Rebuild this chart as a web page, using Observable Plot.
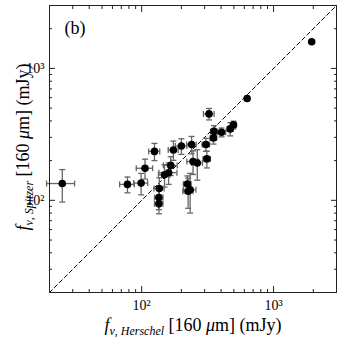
<!DOCTYPE html>
<html>
<head>
<meta charset="utf-8">
<script src="https://cdn.jsdelivr.net/npm/d3@7"></script>
<script src="https://cdn.jsdelivr.net/npm/@observablehq/plot@0.6"></script>
<style>
  html, body { margin: 0; padding: 0; background: #fff; }
  #chart svg { display: block; }
  #chart svg, #chart svg text { font-family: "Liberation Serif", "Times New Roman", Times, serif; }
</style>
</head>
<body>
<div id="chart"></div>
<script>
// Herschel 160um flux (mJy), Spitzer 160um flux (mJy), and errors
const herschel = [1945, 630, 324, 497, 469, 403, 353, 350, 307, 239, 200, 174, 125, 312, 245, 264, 166, 106, 160, 149, 99, 78, 25, 222, 136, 233, 225, 135, 135];
const spitzer  = [1592, 592, 452, 373, 348, 328, 333, 297, 265, 265, 258, 241, 235, 206, 197, 192, 184, 175, 162, 156, 135, 132, 134, 133, 123, 120, 117, 105, 94];
const herschelErr = [0, 20, 30, 20, 25, 30, 20, 20, 20, 20, 20, 15, 12, 20, 25, 25, 20, 15, 25, 15, 12, 10, 6, 15, 12, 25, 20, 10, 10];
const spitzerErr  = [0, 20, 45, 25, 40, 25, 35, 30, 30, 40, 35, 40, 35, 30, 40, 50, 30, 30, 30, 30, 25, 18, 37, 20, 25, 40, 30, 20, 15];

const domain = [20, 3000];
const majorTicks = [100, 1000];
const majorLabels = ["10\u00B2", "10\u00B3"];
const minorTicks = [20, 30, 40, 50, 60, 70, 80, 90, 200, 300, 400, 500, 600, 700, 800, 900, 2000, 3000];
const panelLabel = ["(b)"];

const data = herschel.map((x, i) => ({x, y: spitzer[i], xe: herschelErr[i], ye: spitzerErr[i]}));
const withErr = data.filter(d => d.xe > 0 || d.ye > 0);

const capSymbolH = { draw(ctx, size) { const r = Math.sqrt(size / Math.PI); ctx.moveTo(-r, 0); ctx.lineTo(r, 0); } };
const capSymbolV = { draw(ctx, size) { const r = Math.sqrt(size / Math.PI); ctx.moveTo(0, -r); ctx.lineTo(0, r); } };

const errColor = "#666";
const axisColor = "#222";
const ff = "'Liberation Serif', 'Times New Roman', Times, serif";

const tickMarks = [];
for (const a of ["bottom", "top"]) {
  tickMarks.push(Plot.axisX({anchor: a, ticks: majorTicks, tickSize: -6, tickFormat: () => "", stroke: axisColor}));
  tickMarks.push(Plot.axisX({anchor: a, ticks: minorTicks, tickSize: -3, tickFormat: () => "", stroke: axisColor}));
}
for (const a of ["left", "right"]) {
  tickMarks.push(Plot.axisY({anchor: a, ticks: majorTicks, tickSize: -6, tickFormat: () => "", stroke: axisColor}));
  tickMarks.push(Plot.axisY({anchor: a, ticks: minorTicks, tickSize: -3, tickFormat: () => "", stroke: axisColor}));
}

const plot = Plot.plot({
  width: 341,
  height: 339,
  marginLeft: 49,
  marginRight: 5,
  marginTop: 5,
  marginBottom: 47,
  style: {fontFamily: ff, background: "#fff", color: "#000"},
  x: {type: "log", domain, label: null},
  y: {type: "log", domain, label: null},
  marks: [
    Plot.line(domain, {x: d => d, y: d => d, stroke: "#000", strokeWidth: 1, strokeDasharray: "4,3"}),
    // error bars
    Plot.ruleY(withErr, {y: "y", x1: d => d.x - d.xe, x2: d => d.x + d.xe, stroke: errColor, strokeWidth: 1.3}),
    Plot.ruleX(withErr, {x: "x", y1: d => d.y - d.ye, y2: d => d.y + d.ye, stroke: errColor, strokeWidth: 1.3}),
    Plot.dot(withErr, {x: d => d.x - d.xe, y: "y", symbol: capSymbolV, r: 3, stroke: errColor, strokeWidth: 1.3, fill: "none"}),
    Plot.dot(withErr, {x: d => d.x + d.xe, y: "y", symbol: capSymbolV, r: 3, stroke: errColor, strokeWidth: 1.3, fill: "none"}),
    Plot.dot(withErr, {x: "x", y: d => d.y - d.ye, symbol: capSymbolH, r: 3, stroke: errColor, strokeWidth: 1.3, fill: "none"}),
    Plot.dot(withErr, {x: "x", y: d => d.y + d.ye, symbol: capSymbolH, r: 3, stroke: errColor, strokeWidth: 1.3, fill: "none"}),
    Plot.dot(data, {x: "x", y: "y", r: 3.8, fill: "#000", stroke: "none"}),
    ...tickMarks,
    Plot.axisX({anchor: "bottom", ticks: majorTicks, tickSize: 0, tickPadding: 8, tickFormat: (d) => majorLabels[majorTicks.indexOf(d)], fontSize: 14, fontFamily: ff}),
    Plot.axisY({anchor: "left", ticks: majorTicks, tickSize: 0, tickPadding: 5, tickFormat: (d) => majorLabels[majorTicks.indexOf(d)], fontSize: 14, fontFamily: ff}),
    Plot.frame({stroke: axisColor, strokeWidth: 1}),
    Plot.text(panelLabel, {frameAnchor: "top-left", textAnchor: "start", lineAnchor: "middle", dx: 15, dy: 23, fontSize: 18, fontFamily: ff})
  ]
});

document.getElementById("chart").appendChild(plot);

// axis titles with italic subscripts
const svg = d3.select(plot);
function title(sel, sub) {
  sel.attr("font-family", ff).attr("font-size", 18).attr("fill", "#000").attr("text-anchor", "middle");
  sel.append("tspan").attr("font-style", "italic").text("f");
  sel.append("tspan").attr("font-style", "italic").attr("font-size", 12).attr("dy", 4).text("\u03BD, " + sub);
  sel.append("tspan").attr("dy", -4).text(" [160 ");
  sel.append("tspan").attr("font-style", "italic").text("\u03BC");
  sel.append("tspan").text("m] (mJy)");
}
title(svg.append("text").attr("x", 193).attr("y", 331), "Herschel");
title(svg.append("text").attr("transform", "translate(29,147) rotate(-90)"), "Spitzer");
</script>
</body>
</html>
